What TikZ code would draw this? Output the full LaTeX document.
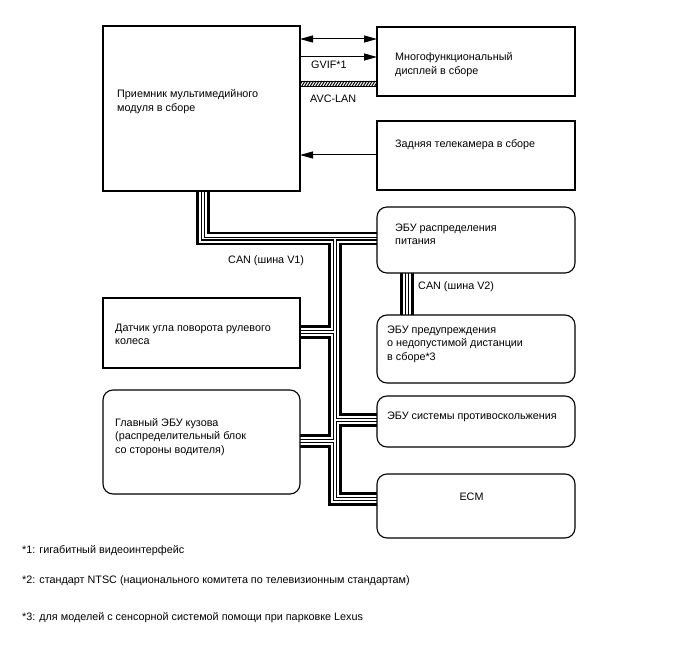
\documentclass[tikz,border=0pt]{standalone}
\usepackage{fontspec}
\setmainfont{Liberation Sans}
\usetikzlibrary{arrows.meta}
\pgfdeclarelayer{bg}
\pgfsetlayers{bg,main}
\begin{document}
\begin{tikzpicture}[x=1pt,y=-1pt,
  box/.style={draw=black, line width=1.1pt, fill=white, inner sep=0pt, outer sep=0pt, anchor=north west},
  rbox/.style={box, rounded corners=10pt},
  txt/.style={font=\fontsize{10.8}{13.5}\selectfont, inner sep=0pt, anchor=base west, align=left},
  arr/.style={line width=1pt, -{Triangle[length=13pt,width=7pt]}},
  darr/.style={line width=1pt, {Triangle[length=13pt,width=7pt]}-{Triangle[length=13pt,width=7pt]}},
]
\useasboundingbox (0,0) rectangle (688,658);

% boxes
\node[box, minimum width=197pt, minimum height=165pt] (recv) at (103,26) {};
\node[box, minimum width=198pt, minimum height=69pt] (disp) at (377,27) {};
\node[box, minimum width=198pt, minimum height=69pt] (cam) at (377,121) {};
\node[rbox, minimum width=198pt, minimum height=66pt] (power) at (377,207) {};
\node[rbox, minimum width=198pt, minimum height=68pt] (warn) at (377,315) {};
\node[rbox, minimum width=198pt, minimum height=51pt] (anti) at (377,396) {};
\node[rbox, minimum width=198pt, minimum height=64pt] (ecm) at (377,474) {};
\node[box, minimum width=197pt, minimum height=70pt] (sensor) at (103,298) {};
\node[rbox, minimum width=197pt, minimum height=104pt] (body) at (103,390) {};

% texts in boxes (base anchor = baseline of the last line)
\node[txt] (trecv) at (117,111.5) {Приемник мультимедийного\\модуля в сборе};
\node[txt] (tdisp) at (395,74.5) {Многофункциональный\\дисплей в сборе};
\node[txt] (tcam) at (395,147) {Задняя телекамера в сборе};
\node[txt] (tpower) at (395,244.5) {ЭБУ распределения\\питания};
\node[txt] (twarn) at (387,360) {ЭБУ предупреждения\\о недопустимой дистанции\\в сборе*3};
\node[txt] (tanti) at (387,419) {ЭБУ системы противоскольжения};
\node[txt, anchor=base] (tecm) at (471.5,500) {ECM};
\node[txt] (tsensor) at (115,344.5) {Датчик угла поворота рулевого\\колеса};
\node[txt] (tbody) at (115,453) {Главный ЭБУ кузова\\(распределительный блок\\со стороны водителя)};

% connector labels
\node[txt] (lgvif) at (311,69) {GVIF*1};
\node[txt] (lavc) at (310,103) {AVC-LAN};
\node[txt] (lcan1) at (228,263) {CAN (шина V1)};
\node[txt] (lcan2) at (418,289) {CAN (шина V2)};

% footnotes
\node[txt] (f1) at (22,553) {*1: гигабитный видеоинтерфейс};
\node[txt] (f2) at (22,583) {*2: стандарт NTSC (национального комитета по телевизионным стандартам)};
\node[txt] (f3) at (22,620) {*3: для моделей с сенсорной системой помощи при парковке Lexus};

% helper coordinates
\coordinate (yA) at (0,39);
\coordinate (yB) at (0,57);
\coordinate (yC) at (0,155);
\coordinate (yH1) at (0,81);
\coordinate (yH2) at (0,86.5);
\coordinate (b1) at (203,238.5);
\coordinate (tj) at (335,238.5);
\coordinate (tb) at (335,499);
\coordinate (ys) at (0,332);
\coordinate (ya) at (0,420);
\coordinate (yb) at (0,441);
\coordinate (v2) at (407,0);

% arrows
\draw[darr] (recv.east |- yA) -- (disp.west |- yA);
\draw[arr] (recv.east |- yB) -- (disp.west |- yB);
\draw[arr] (cam.west |- yC) -- (recv.east |- yC);

% AVC-LAN hatched bar
\begin{scope}
  \clip (recv.east |- yH1) rectangle (disp.west |- yH2);
  \foreach \x in {296,298.8,...,382} \draw[line width=1pt] (\x,86.5) -- (\x+3.5,81);
\end{scope}
\draw[line width=0.7pt] (recv.east |- yH1) -- (disp.west |- yH1);
\draw[line width=1.1pt] (recv.east |- yH2) -- (disp.west |- yH2);

% CAN buses
\begin{pgfonlayer}{bg}
\foreach \w/\c in {13.5/black,8.6/white,4/black,1.8/white}{
  \draw[line width=\w pt, draw=\c] (recv.south -| b1) -- (b1) -- (power.west |- b1);
  \draw[line width=\w pt, draw=\c] (tj) -- (tb) -- (ecm.west |- tb);
  \draw[line width=\w pt, draw=\c] (sensor.east |- ys) -- (tj |- ys);
  \draw[line width=\w pt, draw=\c] (tj |- ya) -- (anti.west |- ya);
  \draw[line width=\w pt, draw=\c] (body.east |- yb) -- (tj |- yb);
  \draw[line width=\w pt, draw=\c] (power.south -| v2) -- (warn.north -| v2);
}
\end{pgfonlayer}
\end{tikzpicture}
\end{document}
